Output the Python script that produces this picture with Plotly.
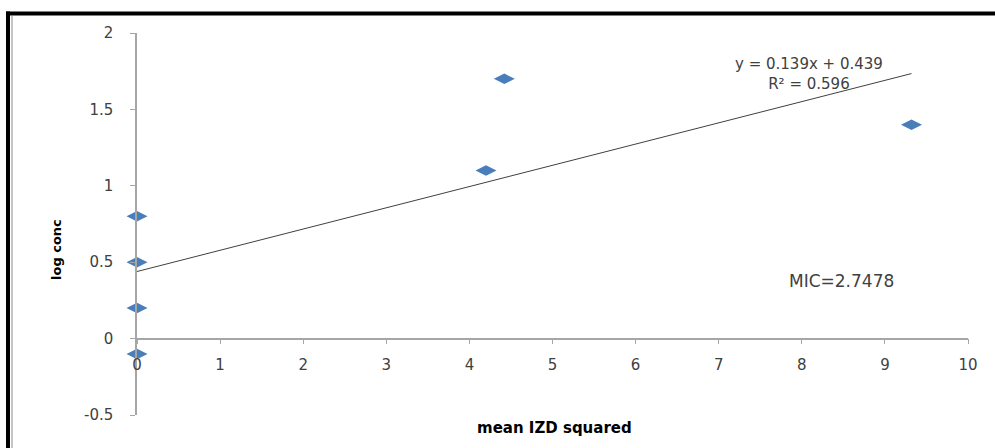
import plotly.graph_objects as go

# Data
mean_izd_squared = [0, 0, 0, 0, 4.2, 4.42, 9.32]
log_conc = [0.8, 0.5, 0.2, -0.1, 1.1, 1.7, 1.4]
trend_slope = 0.139
trend_intercept = 0.439
x_tick_vals = [0, 1, 2, 3, 4, 5, 6, 7, 8, 9, 10]
x_tick_text = ["0", "1", "2", "3", "4", "5", "6", "7", "8", "9", "10"]
y_tick_vals = [-0.5, 0, 0.5, 1, 1.5, 2]
y_tick_text = ["-0.5", "0", "0.5", "1", "1.5", "2"]
equation_text = "y = 0.139x + 0.439"
r2_text = "R² = 0.596"
mic_text = "MIC=2.7478"

W, H = 995, 448
L, R, T, B = 137, 27, 33, 33
pw, ph = W - L - R, H - T - B

def px_x(p):
    return (p - L) / pw

def px_y(p):
    return 1 - (p - T) / ph

trend_x = [min(mean_izd_squared), max(mean_izd_squared)]
trend_y = [trend_slope * v + trend_intercept for v in trend_x]

font_fam = "DejaVu Sans, Liberation Sans, sans-serif"
fig = go.Figure()
fig.add_trace(go.Scatter(
    x=trend_x, y=trend_y, mode="lines",
    line=dict(color="#404040", width=1), hoverinfo="skip", showlegend=False,
    cliponaxis=False))
fig.add_trace(go.Scatter(
    x=mean_izd_squared, y=log_conc, mode="markers",
    marker=dict(symbol="diamond-wide", size=15, color="#4a7ebb"),
    showlegend=False, cliponaxis=False))

y_min, y_max = -0.5, 2
zero_pos = (0 - y_min) / (y_max - y_min)

def ann(text, x, y, size, color="#404040", angle=0):
    return dict(text=text, xref="paper", yref="paper",
                x=px_x(x), y=px_y(y), xanchor="center", yanchor="middle",
                showarrow=False, textangle=angle, align="center",
                font=dict(family=font_fam, size=size, color=color))

fig.update_layout(
    width=W, height=H,
    margin=dict(l=L, r=R, t=T, b=B),
    paper_bgcolor="white", plot_bgcolor="white",
    xaxis=dict(range=[0, 10], tickvals=x_tick_vals, ticktext=x_tick_text,
               showgrid=False, zeroline=False, showline=True,
               linecolor="#a6a6a6", linewidth=1.5, ticks="outside",
               ticklen=5, tickcolor="#a6a6a6", ticklabelstandoff=8,
               tickfont=dict(family=font_fam, size=15, color="#404040"),
               anchor="free", position=zero_pos),
    yaxis=dict(range=[y_min, y_max], tickvals=y_tick_vals, ticktext=y_tick_text,
               showgrid=False, zeroline=False, showline=True,
               linecolor="#a6a6a6", linewidth=1.5, ticks="outside",
               ticklen=5, tickcolor="#a6a6a6", ticklabelstandoff=14,
               tickfont=dict(family=font_fam, size=15, color="#404040")),
    shapes=[
        dict(type="line", xref="paper", yref="paper",
             x0=px_x(6), x1=px_x(W + 5), y0=px_y(13.5), y1=px_y(13.5),
             line=dict(color="black", width=4)),
        dict(type="line", xref="paper", yref="paper",
             x0=px_x(8), x1=px_x(8), y0=px_y(11.5), y1=px_y(H + 5),
             line=dict(color="black", width=4)),
        dict(type="line", xref="paper", yref="paper",
             x0=px_x(12), x1=px_x(12), y0=px_y(16), y1=px_y(H + 5),
             line=dict(color="#b0b0b0", width=1.5)),
    ],
    annotations=[
        ann(equation_text + "<br>" + r2_text, 809, 74, 15),
        ann(mic_text, 841, 281, 17),
        ann("<b>log conc</b>", 56, 250, 13, color="black", angle=-90),
        ann("<b>mean IZD squared</b>", 554, 428, 15, color="black"),
    ],
)

fig.write_html("out.html", config={"displayModeBar": False},
               post_script="document.body.style.margin='0';")
